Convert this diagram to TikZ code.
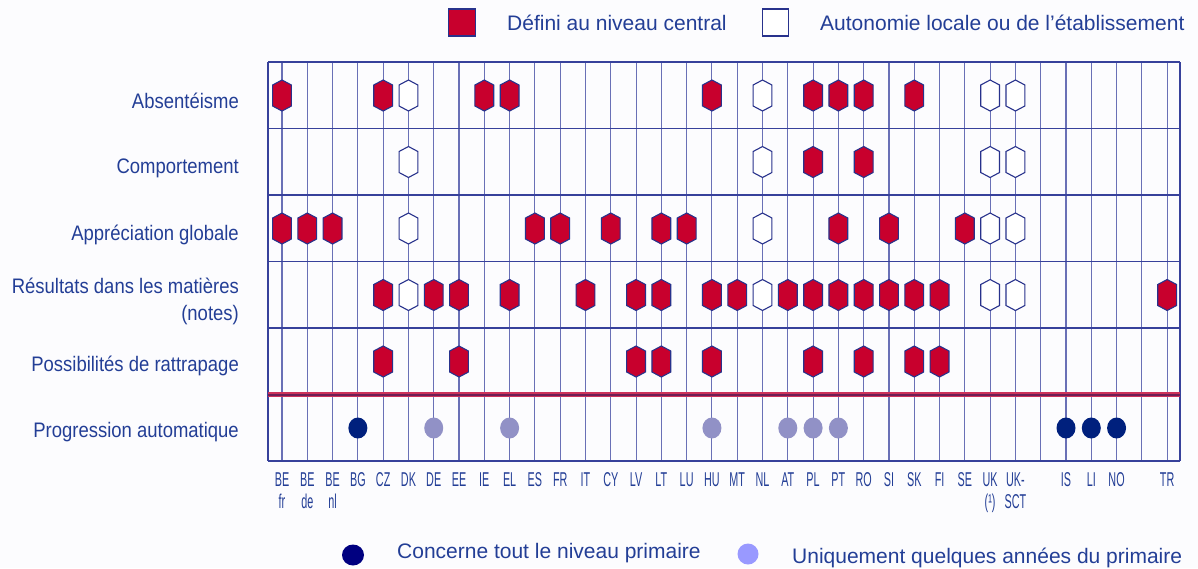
\documentclass[tikz,border=0pt]{standalone}
\usepackage{fontspec}
\setmainfont{Liberation Sans}
\usetikzlibrary{shapes.geometric}
\definecolor{txtblue}{RGB}{35,62,150}
\definecolor{cred}{RGB}{200,0,45}
\definecolor{hexline}{RGB}{40,50,140}
\definecolor{gridv}{RGB}{105,112,182}
\definecolor{gridh}{RGB}{55,65,155}
\definecolor{navyg}{RGB}{0,32,125}
\definecolor{lavg}{RGB}{145,145,198}
\definecolor{navyl}{RGB}{0,0,128}
\definecolor{lavl}{RGB}{153,153,255}
\definecolor{sepout}{RGB}{205,50,90}
\definecolor{sepin}{RGB}{110,30,85}
\definecolor{bgc}{RGB}{252,252,254}
\begin{document}
\begin{tikzpicture}[x=1pt,y=-1pt,
  hexagon/.pic={\path[pic actions] (0,-15.5) -- (9.4,-10.5) -- (9.4,10.5) -- (0,15.5) -- (-9.4,10.5) -- (-9.4,-10.5) -- cycle;},
  hexc/.style={draw=hexline, fill=cred, line width=1.1pt},
  hexl/.style={draw=hexline, fill=white, line width=1.1pt},
  dotall/.style={ellipse, fill=navyg, minimum width=19pt, minimum height=21pt, inner sep=0pt},
  dotsome/.style={ellipse, fill=lavg, minimum width=19pt, minimum height=21pt, inner sep=0pt},
  rowlab/.style={anchor=base east, inner sep=0pt, text=txtblue, font=\fontsize{21}{27}\selectfont, xscale=0.88, align=right},
  collab/.style={anchor=base, inner sep=0pt, text=txtblue, font=\fontsize{20}{22}\selectfont, xscale=0.54, align=center},
  legtext/.style={anchor=base west, inner sep=0pt, text=txtblue, font=\fontsize{21}{25}\selectfont},
  gridline/.style={draw=gridv, line width=1.1pt},
  hline/.style={draw=gridh, line width=1.1pt},
]
\fill[bgc] (0,0) rectangle (1198,568);
\useasboundingbox (0,0) rectangle (1198,568);

% row and column coordinates
\coordinate (top) at (0,62);
\coordinate (bot) at (0,461);
\coordinate (lb1) at (0,486);
\coordinate (lb2) at (0,508);
\foreach \j/\y in {1/95.5,2/162,3/228.5,4/295,5/361.5,6/428}
  \coordinate (r\j) at (0,\y);
\foreach \i in {0,...,35}
  \coordinate (c\i) at ({282+25.29*\i},0);
\coordinate (gl) at (268,0);
\coordinate (gr) at (1180,0);

% vertical grid lines
\foreach \i in {0,...,35}
  \draw[gridline] (c\i |- top) -- (c\i |- bot);
\draw[hline] (gl |- top) -- (gl |- bot);
\draw[hline] (gr |- top) -- (gr |- bot);

% horizontal lines
\foreach \y in {62,128.5,195,261.5,328,461}
  \draw[hline] (268,\y) -- (1180,\y);
\coordinate (sepl) at (268,394.5);
\coordinate (sepr) at (1180,394.5);
\draw[sepout, line width=4.5pt] (sepl) -- (sepr);
\draw[sepin, line width=2pt] (sepl) -- (sepr);

% row labels
\node[rowlab] (lab1) at (239,108) {Absentéisme};
\node[rowlab] (lab2) at (239,173) {Comportement};
\node[rowlab] (lab3) at (239,240) {Appréciation globale};
\node[rowlab] (lab4) at (239,320) {Résultats dans les matières\\(notes)};
\node[rowlab] (lab5) at (239,371) {Possibilités de rattrapage};
\node[rowlab] (lab6) at (239,437) {Progression automatique};

% column labels (one line)
\foreach \i/\t in {3/BG,4/CZ,5/DK,6/DE,7/EE,8/IE,9/EL,10/ES,11/FR,12/IT,13/CY,14/LV,15/LT,16/LU,17/HU,18/MT,19/NL,20/AT,21/PL,22/PT,23/RO,24/SI,25/SK,26/FI,27/SE,31/IS,32/LI,33/NO,35/TR}
  \node[collab] (col\i) at (c\i |- lb1) {\t};
% column labels (two lines)
\foreach \i/\t in {0/{BE\\fr},1/{BE\\de},2/{BE\\nl},28/{UK\\(¹)},29/{UK-\\SCT}}
  \node[collab] (col\i) at (c\i |- lb2) {\t};

% row 1: Absenteisme
\foreach \i in {0,4,8,9,17,21,22,23,25} \pic[hexc] at (c\i |- r1) {hexagon};
\foreach \i in {5,19,28,29} \pic[hexl] at (c\i |- r1) {hexagon};
% row 2: Comportement
\foreach \i in {21,23} \pic[hexc] at (c\i |- r2) {hexagon};
\foreach \i in {5,19,28,29} \pic[hexl] at (c\i |- r2) {hexagon};
% row 3: Appreciation globale
\foreach \i in {0,1,2,10,11,13,15,16,22,24,27} \pic[hexc] at (c\i |- r3) {hexagon};
\foreach \i in {5,19,28,29} \pic[hexl] at (c\i |- r3) {hexagon};
% row 4: Resultats
\foreach \i in {4,6,7,9,12,14,15,17,18,20,21,22,23,24,25,26,35} \pic[hexc] at (c\i |- r4) {hexagon};
\foreach \i in {5,19,28,29} \pic[hexl] at (c\i |- r4) {hexagon};
% row 5: Possibilites
\foreach \i in {4,7,14,15,17,21,23,25,26} \pic[hexc] at (c\i |- r5) {hexagon};
% row 6: Progression automatique
\foreach \i in {3,31,32,33} \node[dotall] (pa\i) at (c\i |- r6) {};
\foreach \i in {6,9,17,20,21,22} \node[dotsome] (ps\i) at (c\i |- r6) {};

% top legend
\node[draw=hexline, fill=cred, line width=1.1pt, minimum width=27pt, minimum height=27pt, inner sep=0pt] (legc) at (462,22.5) {};
\node[legtext] (legct) at (507,30) {Défini au niveau central};
\node[draw=hexline, fill=white, line width=1.1pt, minimum width=26pt, minimum height=27pt, inner sep=0pt] (legl) at (775.5,22.5) {};
\node[legtext] (leglt) at (820,30) {Autonomie locale ou de l'établissement};

% bottom legend
\node[ellipse, fill=navyl, minimum width=22pt, minimum height=21pt, inner sep=0pt] (lega) at (353,555) {};
\node[legtext] (legat) at (397,558) {Concerne tout le niveau primaire};
\node[ellipse, fill=lavl, minimum width=21pt, minimum height=21pt, inner sep=0pt] (legs) at (748,554) {};
\node[legtext] (legst) at (792,563) {Uniquement quelques années du primaire};
\end{tikzpicture}
\end{document}
